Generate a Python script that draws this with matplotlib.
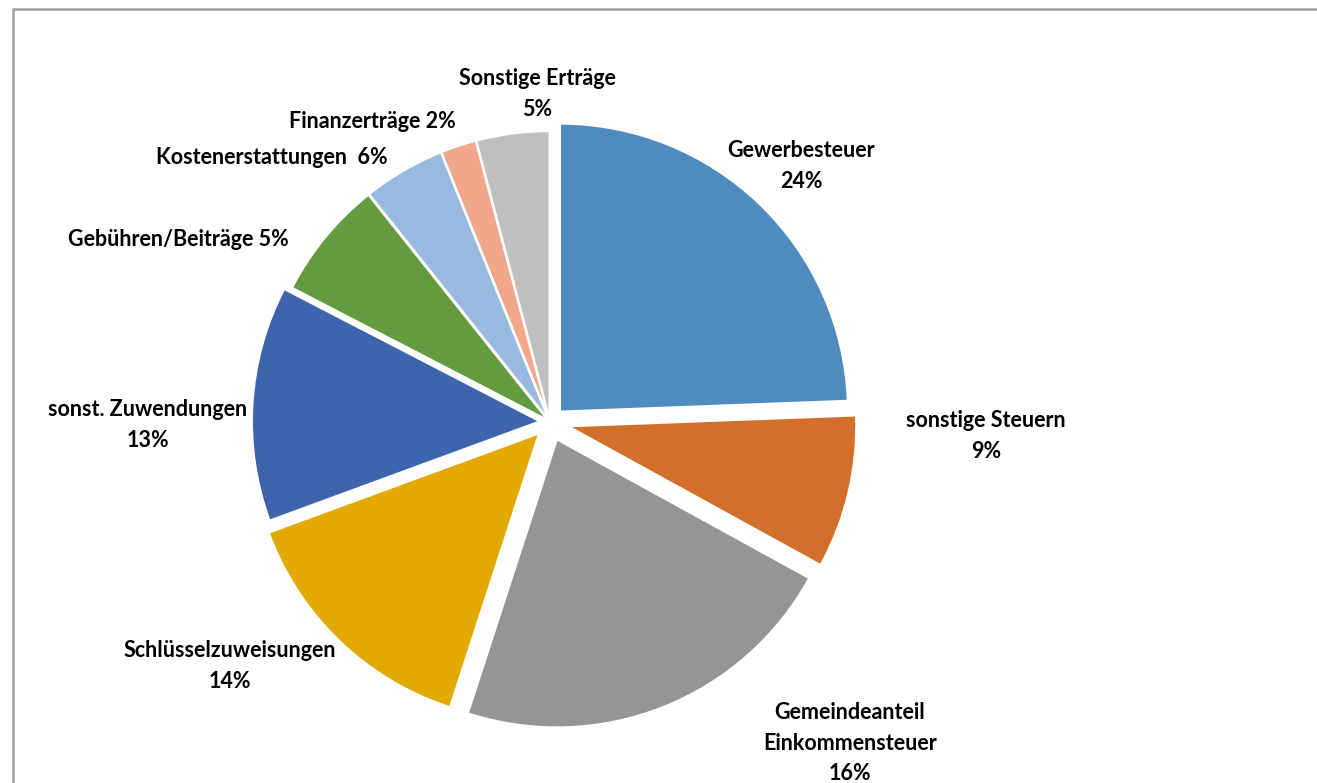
# Ertragsverteilung als Tortendiagramm
import matplotlib.pyplot as plt
import matplotlib.patches as mpatches

plt.rcParams['font.family'] = ['Lato', 'DejaVu Sans']

# Kategorien (im Uhrzeigersinn ab 12 Uhr)
kategorien = ['Gewerbesteuer', 'sonstige Steuern', 'Gemeindeanteil Einkommensteuer',
              'Schlüsselzuweisungen', 'sonst. Zuwendungen', 'Gebühren/Beiträge',
              'Kostenerstattungen', 'Finanzerträge', 'Sonstige Erträge']
# Segmentgrößen (aus dem Bild geschätzt, Anteile in %)
anteile = [24.4, 8.6, 22.0, 14.4, 13.2, 6.7, 4.6, 2.0, 4.1]
# Beschriftungen wie im Original
beschriftungen = ['Gewerbesteuer\n24%', 'sonstige Steuern\n9%',
                  'Gemeindeanteil\nEinkommensteuer\n16%', 'Schlüsselzuweisungen\n14%',
                  'sonst. Zuwendungen\n13%', 'Gebühren/Beiträge 5%',
                  'Kostenerstattungen  6%', 'Finanzerträge 2%', 'Sonstige Erträge\n5%']
farben = ['#4F8BBE', '#D46E2B', '#959595', '#E2AA00', '#3E64AE',
          '#639B3F', '#98B9E0', '#F1A88A', '#BFBFBF']
explode = [0.05, 0.065, 0.065, 0.055, 0.035, 0.01, 0.01, 0.01, 0.01]

# Layout in Pixeln
W, H = 1317, 783
cx, cy, r = 550, 422, 288

fig = plt.figure(figsize=(W / 100, H / 100), dpi=100)
ax = fig.add_axes([0, 0, 1, 1])

ax.pie(anteile, colors=farben, startangle=90, counterclock=False,
       explode=explode, radius=1.0,
       wedgeprops=dict(edgecolor='white', linewidth=1.5))

# Grenzen nach pie() setzen, da pie() sie überschreibt
ax.set_xlim(-cx / r, (W - cx) / r)
ax.set_ylim(-(H - cy) / r, cy / r)
ax.set_aspect('equal')
ax.axis('off')

# Positionen der Beschriftungen (Pixel, Textmitte)
label_pos = [(801, 166), (986, 436), (850, 743), (230, 666), (148, 425),
             (178, 240), (272, 158), (372, 122), (537, 94)]
for txt, (px, py) in zip(beschriftungen, label_pos):
    ax.text((px - cx) / r, (cy - py) / r, txt, ha='center', va='center',
            fontsize=15.5, fontweight='bold', color='#000000', linespacing=1.55)

# Rahmen des Diagrammbereichs
fig.patches.append(mpatches.Rectangle((13 / W, -0.1), 1.2, 1 - 9 / H + 0.1,
                                      transform=fig.transFigure, fill=False,
                                      edgecolor='#A0A0A0', linewidth=1.8))

fig.savefig('out.png', dpi=100)
